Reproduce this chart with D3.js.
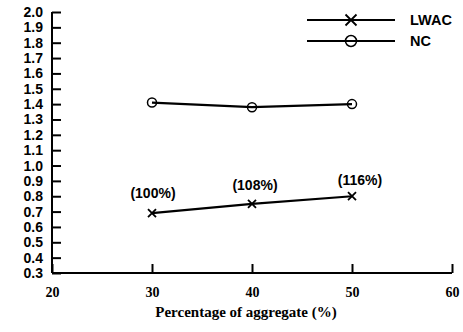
<!DOCTYPE html>
<html>
<head>
<meta charset="utf-8">
<script src="https://cdn.jsdelivr.net/npm/d3@7"></script>
<style>
  body { margin: 0; background: #fff; }
  svg { display: block; }
</style>
</head>
<body>
<svg id="chart" width="463" height="332"></svg>
<script>
'use strict';

var aggregate = [30, 40, 50]
var lwac = [0.69, 0.75, 0.80]
var nc = [1.41, 1.38, 1.40]
var lwacLabels = ['(100%)', '(108%)', '(116%)']
var xTicks = [20, 30, 40, 50, 60]
var yTicks = d3.range(3, 21).map(function(d) { return d / 10; })

var svg = d3.select('#chart')
var x = d3.scaleLinear().domain([20, 60]).range([52, 452])
var y = d3.scaleLinear().domain([0.3, 2.0]).range([273, 12])

var sans = 'Liberation Sans, Arial, sans-serif'
var serif = 'Liberation Serif, Times New Roman, serif'

// y axis
var yAxis = svg.append('g')
    .attr('transform', 'translate(52,0)')
    .call(d3.axisRight(y).tickValues(yTicks).tickSize(9).tickFormat(d3.format('.1f')).tickPadding(0))
yAxis.select('.domain').attr('d', 'M0,' + y(2.0) + 'V' + y(0.3)).attr('stroke-width', 2)
yAxis.selectAll('.tick line').attr('stroke-width', 2)
yAxis.selectAll('.tick text')
    .attr('x', -9)
    .attr('text-anchor', 'end')
    .style('font-family', sans)
    .style('font-weight', 'bold')
    .style('font-size', '14px')
    .attr('fill', '#000')

// x axis
var xAxis = svg.append('g')
    .attr('transform', 'translate(0,273)')
    .call(d3.axisTop(x).tickValues(xTicks).tickSize(9).tickFormat(d3.format('d')))
xAxis.select('.domain').attr('d', 'M' + x(20) + ',0H' + x(60)).attr('stroke-width', 2)
xAxis.selectAll('.tick line').attr('stroke-width', 2)
xAxis.selectAll('.tick text')
    .attr('y', 24)
    .attr('dy', null)
    .style('font-family', serif)
    .style('font-weight', 'bold')
    .style('font-size', '14px')
    .attr('fill', '#000')

svg.append('text')
    .attr('x', 246)
    .attr('y', 317)
    .attr('text-anchor', 'middle')
    .style('font-family', serif)
    .style('font-weight', 'bold')
    .style('font-size', '15px')
    .text('Percentage of aggregate (%)')

var line = d3.line()
    .x(function(d) { return x(d[0]); })
    .y(function(d) { return y(d[1]); })

function drawCross(g, cx, cy, s) {
    g.append('path')
        .attr('d', 'M' + (cx - s) + ',' + (cy - s) + 'L' + (cx + s) + ',' + (cy + s) +
            'M' + (cx - s) + ',' + (cy + s) + 'L' + (cx + s) + ',' + (cy - s))
        .attr('stroke', '#000')
        .attr('stroke-width', 1.8)
}

function drawCircle(g, cx, cy, r) {
    g.append('circle')
        .attr('cx', cx).attr('cy', cy).attr('r', r)
        .attr('fill', 'none')
        .attr('stroke', '#000')
        .attr('stroke-width', 1.5)
}

var ncData = aggregate.map(function(a, i) { return [a, nc[i]]; })
var lwacData = aggregate.map(function(a, i) { return [a, lwac[i]]; })

svg.append('path').datum(ncData)
    .attr('d', line).attr('fill', 'none').attr('stroke', '#000').attr('stroke-width', 2.2)
svg.append('path').datum(lwacData)
    .attr('d', line).attr('fill', 'none').attr('stroke', '#000').attr('stroke-width', 2.2)

var marks = svg.append('g')
ncData.forEach(function(d) { drawCircle(marks, x(d[0]), y(d[1]), 4.5); })
lwacData.forEach(function(d) { drawCross(marks, x(d[0]), y(d[1]), 4); })

var labelDy = [-15, -14, -11]
svg.append('g').selectAll('text')
    .data(lwacData)
    .enter().append('text')
    .attr('x', function(d, i) { return x(d[0]) + [1, 3, 8][i]; })
    .attr('y', function(d, i) { return y(d[1]) + labelDy[i]; })
    .attr('text-anchor', 'middle')
    .style('font-family', sans)
    .style('font-weight', 'bold')
    .style('font-size', '14px')
    .text(function(d, i) { return lwacLabels[i]; })

// legend
var legend = svg.append('g')
var legendItems = [
    { name: 'LWAC', y: 20, mark: 'cross' },
    { name: 'NC', y: 41, mark: 'circle' }
]
legendItems.forEach(function(item) {
    legend.append('line')
        .attr('x1', 307).attr('x2', 395)
        .attr('y1', item.y).attr('y2', item.y)
        .attr('stroke', '#000').attr('stroke-width', 2.2)
    if (item.mark === 'cross') {
        drawCross(legend, 351, item.y, 5.5)
    } else {
        drawCircle(legend, 351, item.y, 5.5)
    }
    legend.append('text')
        .attr('x', 410)
        .attr('y', item.y + 5)
        .style('font-family', sans)
        .style('font-weight', 'bold')
        .style('font-size', '14.5px')
        .text(item.name)
})
</script>
</body>
</html>
